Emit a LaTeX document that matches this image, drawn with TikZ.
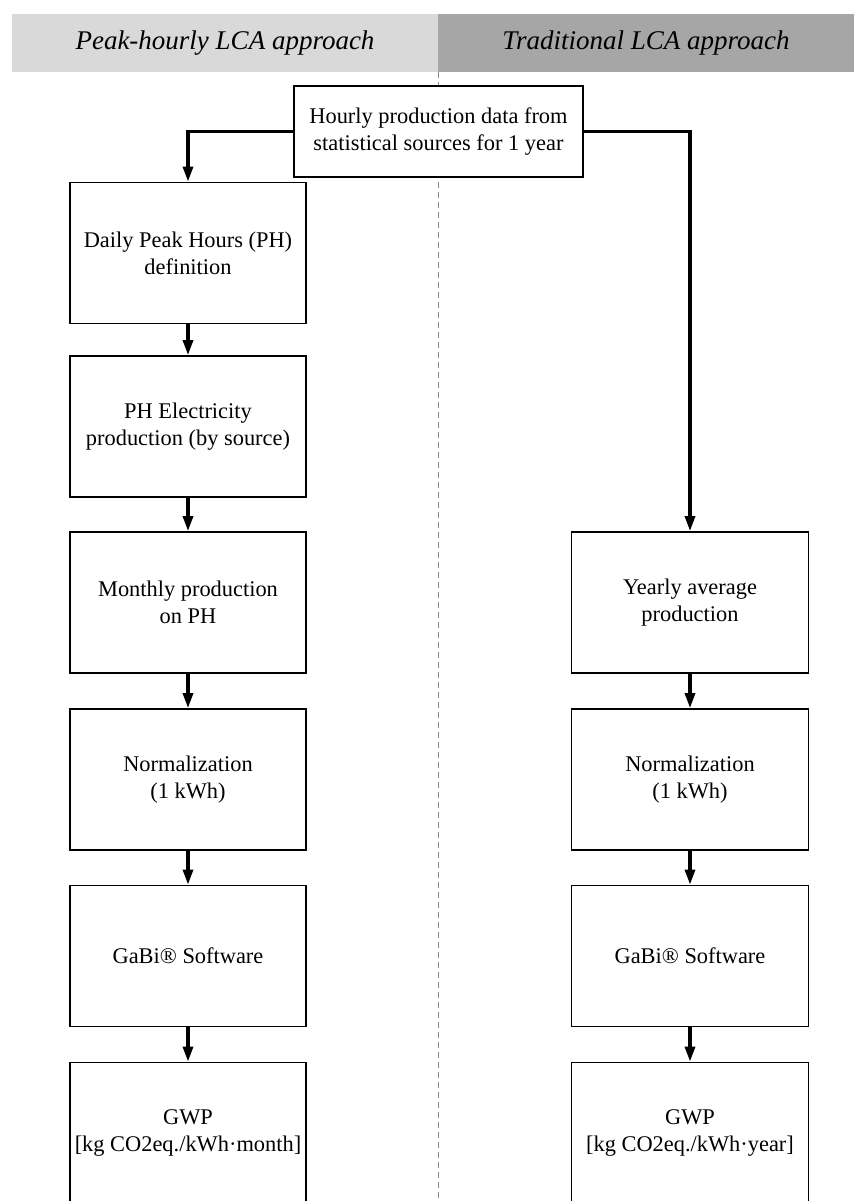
\documentclass[tikz,border=0pt]{standalone}
\usepackage{fontspec}
\setmainfont{Liberation Serif}
\usepackage{tikz}
\usepackage{xcolor}
\usetikzlibrary{arrows.meta}

\begin{document}
\begin{tikzpicture}[x=1pt,y=-1pt,
  headnode/.style={inner sep=0pt,minimum width=426pt,minimum height=58pt,font=\fontsize{27}{32}\selectfont\itshape},
  mybox/.style={draw,fill=white,line width=1.8pt,minimum width=236pt,minimum height=141pt,align=center,inner sep=0pt,font=\fontsize{22.4}{27}\selectfont},
  myarrow/.style={line width=3.2pt,-{Triangle[length=15pt,width=10pt]}}]
\definecolor{headlight}{HTML}{D9D9D9}
\definecolor{headdark}{HTML}{A6A6A6}
\definecolor{splitgray}{HTML}{8C8C8C}
\useasboundingbox (0,0) rectangle (854,1201);
\node[headnode,fill=headlight] (peakhead) at (225,43) {Peak-hourly LCA approach};
\node[headnode,fill=headdark,minimum width=416pt] (tradhead) at (646,43) {Traditional LCA approach};
\coordinate (splittop) at (438.5,72);
\coordinate (splitbot) at (438.5,1201);
\draw[splitgray,line width=0.8pt,dash pattern=on 6pt off 4pt] (splittop) -- (splitbot);
\node[mybox,minimum width=289pt,minimum height=91pt] (hourly) at (438.5,131.5) {Hourly production data from\\statistical sources for 1 year};
  \foreach \txt/\ypos [count=\i] in {{Daily Peak Hours (PH)\\definition}/253,{PH Electricity\\production (by source)}/426.5,{Monthly production\\on PH}/602.5,{Normalization\\(1 kWh)}/779.5,{GaBi® Software}/956,{GWP\\{[}kg CO2eq./kWh·month{]}}/1133}
  {  \node [mybox] (l\i) at (188,\ypos) {\txt};}
  \foreach \txt/\ypos [count=\i] in {{Yearly average\\production}/602.5,{Normalization\\(1 kWh)}/779.5,{GaBi® Software}/956,{GWP\\{[}kg CO2eq./kWh·year{]}}/1133}
  {  \node [mybox,minimum width=237pt] (r\i) at (690,\ypos) {\txt};}
\draw[myarrow] (hourly.west) -| (l1.north);
\draw[myarrow] (hourly.east) -| (r1.north);
  \foreach \i/\j in {1/2,2/3,3/4,4/5,5/6}
  {  \draw[myarrow] (l\i.south) -- (l\j.north);}
  \foreach \i/\j in {1/2,2/3,3/4}
  {  \draw[myarrow] (r\i.south) -- (r\j.north);}
\end{tikzpicture}
\end{document}
